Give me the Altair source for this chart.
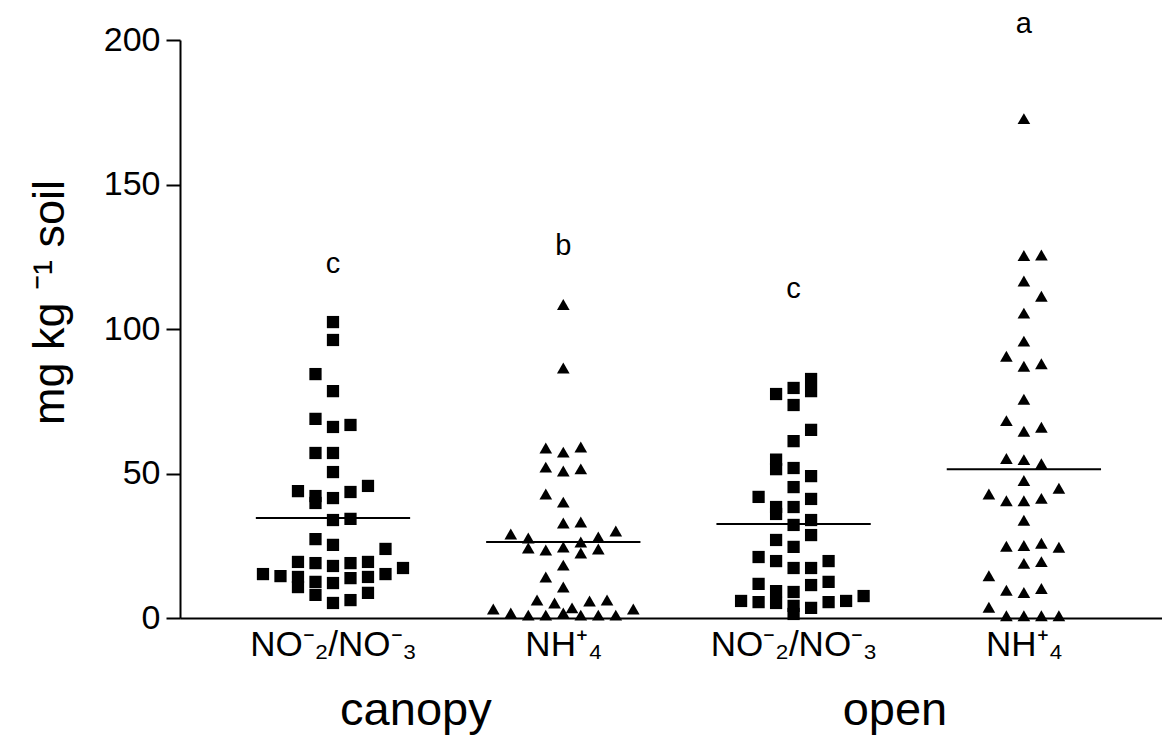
import json
import altair as alt
import pandas as pd

# ---- data ----
# each group: values and the beeswarm column index (0 = centre column)
canopy_no_vals = [102.4, 96.2, 84.4, 78.5, 68.9, 66.1, 66.8, 57.1, 57.1, 50.5,
                  43.9, 42.2, 39.8, 41.5, 43.6, 45.7, 33.9, 34.3, 27.3, 25.3,
                  23.9, 19.4, 19.0, 18.0, 19.0, 19.4, 15.2, 14.5, 14.2, 10.7,
                  12.5, 12.1, 13.8, 14.2, 15.2, 17.3, 8.0, 5.2, 6.2, 8.7]
canopy_no_cols = [0, 0, -1, 0, -1, 0, 1, -1, 0, 0,
                  -2, -1, -1, 0, 1, 2, 0, 1, -1, 0,
                  3, -2, -1, 0, 1, 2, -4, -3, -2, -2,
                  -1, 0, 1, 2, 3, 4, -1, 0, 1, 2]

canopy_nh_vals = [108.5, 86.5, 58.8, 57.4, 59.2, 52.2, 50.9, 51.6, 42.9, 40.1,
                  32.9, 33.2, 29.1, 27.7, 30.1, 28.0, 26.3, 24.2, 23.5, 24.6,
                  22.5, 23.9, 18.3, 14.2, 10.7, 6.2, 5.2, 5.9, 6.2, 3.1,
                  3.5, 3.1, 1.7, 1.0, 1.0, 1.7, 1.0, 1.0, 1.0]
canopy_nh_cols = [0, 0, -1, 0, 1, -1, 0, 1, -1, 0,
                  0, 1, -3, -2, 3, 2, 1, -2, -1, 0,
                  1, 2, 0, -1, 0, -1.5, -0.5, 1.5, 2.5, -4,
                  0.5, 4, -3, -2, -1, 0, 1, 2, 3]

open_no_vals = [82.7, 78.5, 79.6, 77.5, 73.7, 65.1, 61.2, 54.8, 51.5, 51.9,
                49.1, 45.3, 41.9, 41.2, 38.4, 36.0, 38.4, 33.9, 32.2, 28.7,
                27.0, 24.6, 21.1, 19.7, 17.3, 17.3, 19.7, 11.8, 9.3, 9.0,
                11.4, 12.5, 5.9, 5.5, 5.2, 4.2, 1.4, 3.5, 5.5, 5.9, 7.6]
open_no_cols = [1, 1, 0, -1, 0, 1, 0, -1, -1, 0,
                1, 0, -2, 1, -1, -1, 0, 1, 0, 1,
                -1, 0, -2, -1, 0, 1, 2, -2, -1, 0,
                1, 2, -3, -2, -1, 0, 0, 1, 2, 3, 4]

open_nh_vals = [172.8, 125.4, 125.6, 116.6, 111.3, 105.5, 95.8, 90.6, 87.1, 88.0,
                75.7, 68.3, 64.6, 66.0, 55.2, 54.8, 53.4, 47.6, 44.9, 42.9,
                40.6, 40.6, 41.4, 33.8, 24.8, 25.1, 25.9, 24.5, 18.9, 19.5,
                14.6, 9.6, 8.8, 10.2, 3.7, 0.8, 0.8, 0.8, 0.8]
open_nh_cols = [0, 0, 1, 0, 1, 0, 0, -1, 0, 1,
                0, -1, 0, 1, -1, 0, 1, 0, 2, -2,
                -1, 0, 1, 0, -1, 0, 1, 2, 0, 1,
                -2, -1, 0, 1, -2, -1, 0, 1, 2]

group_types = ["NO", "NH", "NO", "NH"]
medians = [34.6, 26.3, 32.5, 51.5]
letters = ["c", "b", "c", "a"]
letter_y = [119.4, 125.6, 110.7, 202.4]
tick_labels = ["NO\u207b\u2082/NO\u207b\u2083", "NH\u207a\u2084",
               "NO\u207b\u2082/NO\u207b\u2083", "NH\u207a\u2084"]
site_labels = ["canopy", "open"]
site_x = [1.36, 3.44]
site_y = [-37.0, -37.0]
y_ticks = [0, 50, 100, 150, 200]

col_step = 0.076      # spacing of beeswarm columns, in x units
median_half = 0.335   # half length of the median bars, in x units

# ---- tables ----
all_vals = [canopy_no_vals, canopy_nh_vals, open_no_vals, open_nh_vals]
all_cols = [canopy_no_cols, canopy_nh_cols, open_no_cols, open_nh_cols]
rows = []
for gi, (vals, cols) in enumerate(zip(all_vals, all_cols)):
    for v, c in zip(vals, cols):
        rows.append({"group": gi + 1, "value": v, "col": c, "type": group_types[gi]})
pts = pd.DataFrame(rows)

med = pd.DataFrame({"group": [1, 2, 3, 4], "value": medians})
let = pd.DataFrame({"group": [1, 2, 3, 4], "value": letter_y, "text": letters})
site = pd.DataFrame({"x": site_x, "value": site_y, "text": site_labels})

FONT = "Liberation Sans"
label_arr = json.dumps([""] + tick_labels, ensure_ascii=False)

x_scale = alt.Scale(domain=[0.3357, 4.5997], nice=False, zero=False)
y_scale = alt.Scale(domain=[0, 200], nice=False, zero=True)

x_axis = alt.Axis(values=[1, 2, 3, 4], labelExpr=f"{label_arr}[datum.value]",
                  ticks=False, domain=True, domainColor="black", domainWidth=2,
                  labelFont=FONT, labelFontSize=35, labelColor="black", labelPadding=9,
                  grid=False, title=None, labelFlush=False)
y_axis = alt.Axis(values=y_ticks, grid=False, domainColor="black", domainWidth=2,
                  tickColor="black", tickWidth=2, tickSize=14,
                  labelFont=FONT, labelFontSize=34, labelColor="black", labelPadding=6,
                  title="mg kg \u207b\u00b9 soil", titleFont=FONT, titleFontSize=45,
                  titleFontWeight="normal", titleColor="black",
                  titleX=-117, titleY=262, titleAngle=270,
                  titleAlign="center", titleBaseline="alphabetic")

points = alt.Chart(pts).transform_calculate(
    xpos=f"datum.group + datum.col * {col_step}"
).mark_point(filled=True, color="black", opacity=1).encode(
    x=alt.X("xpos:Q", scale=x_scale, axis=x_axis),
    y=alt.Y("value:Q", scale=y_scale, axis=y_axis),
    shape=alt.Shape("type:N", scale=alt.Scale(domain=["NO", "NH"],
                                              range=["square", "triangle-up"]),
                    legend=None),
    size=alt.Size("type:N", scale=alt.Scale(domain=["NO", "NH"], range=[150, 160]),
                  legend=None),
)

rules = alt.Chart(med).transform_calculate(
    x1=f"datum.group - {median_half}", x2=f"datum.group + {median_half}"
).mark_rule(color="black", strokeWidth=2).encode(
    x=alt.X("x1:Q", scale=x_scale, axis=x_axis),
    x2="x2:Q",
    y=alt.Y("value:Q", scale=y_scale, axis=y_axis),
)

letter_text = alt.Chart(let).mark_text(
    font=FONT, fontSize=29, color="black", baseline="alphabetic", align="center"
).encode(
    x=alt.X("group:Q", scale=x_scale, axis=x_axis),
    y=alt.Y("value:Q", scale=y_scale, axis=y_axis),
    text="text:N",
)

site_text = alt.Chart(site).mark_text(
    font=FONT, fontSize=47, color="black", baseline="alphabetic", align="center"
).encode(
    x=alt.X("x:Q", scale=x_scale, axis=x_axis),
    y=alt.Y("value:Q", scale=y_scale, axis=y_axis),
    text="text:N",
)

chart = alt.layer(points, rules, letter_text, site_text).properties(
    width=982, height=578,
    padding={"left": 172, "top": 32, "right": 0, "bottom": 118},
    autosize=alt.AutoSizeParams(type="none"),
    background="white",
).configure_view(stroke=None)

chart.save("out.html", embed_options={"renderer": "svg", "actions": False})
